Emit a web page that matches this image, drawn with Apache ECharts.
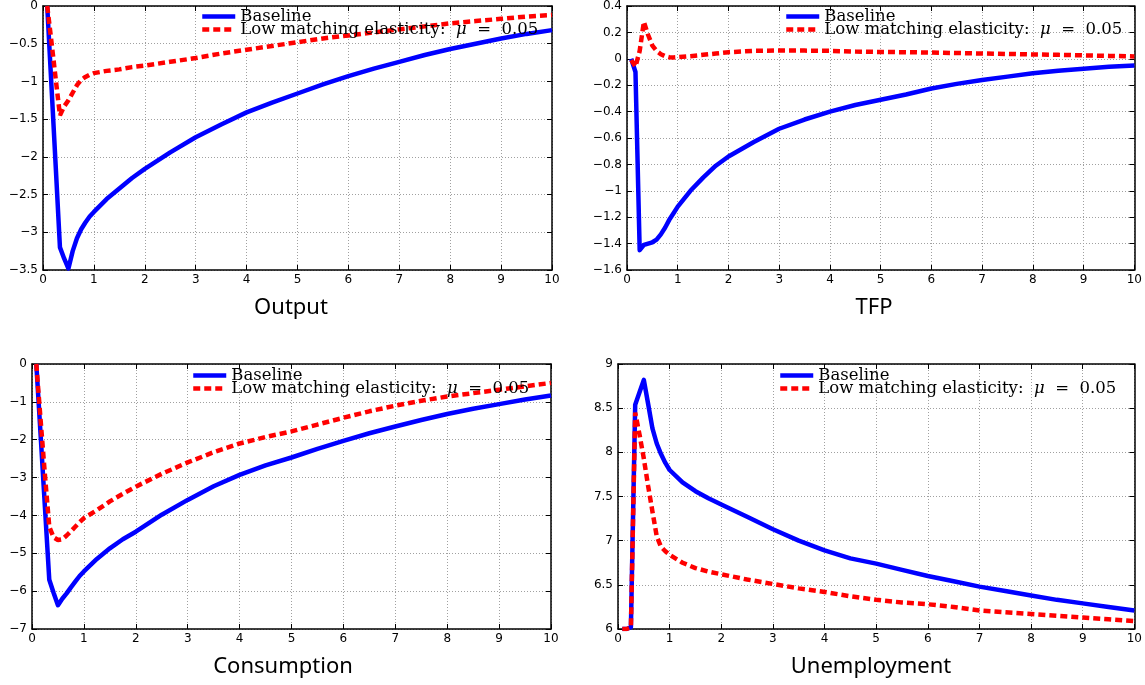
<!DOCTYPE html>
<html><head><meta charset="utf-8">
<script src="https://cdn.jsdelivr.net/npm/echarts@6/dist/echarts.min.js"></script>
<style>html,body{margin:0;padding:0;background:#fff}#c{width:1145px;height:685px}</style>
</head><body><div id="c"></div>
<script>
const years = [0.083,0.167,0.25,0.333,0.417,0.5,0.583,0.667,0.75,0.833,0.917,1,1.25,1.5,1.75,2,2.5,3,3.5,4,4.5,5,5.5,6,6.5,7,7.5,8,8.5,9,9.5,10];
const seriesNames = ['Baseline', 'Low matching elasticity: μ = 0.05'];
const panelTitles = ['Output', 'TFP', 'Consumption', 'Unemployment'];

const outputBase = [0,-1.07,-2.13,-3.2,-3.35,-3.48,-3.25,-3.08,-2.96,-2.87,-2.79,-2.73,-2.56,-2.42,-2.28,-2.16,-1.94,-1.74,-1.57,-1.41,-1.28,-1.16,-1.04,-0.93,-0.83,-0.74,-0.65,-0.57,-0.5,-0.43,-0.37,-0.32];
const outputLow = [0,-0.48,-0.97,-1.45,-1.33,-1.25,-1.15,-1.05,-0.98,-0.94,-0.91,-0.89,-0.86,-0.84,-0.81,-0.79,-0.74,-0.69,-0.63,-0.58,-0.53,-0.48,-0.43,-0.39,-0.35,-0.31,-0.27,-0.23,-0.2,-0.17,-0.14,-0.12];
const tfpBase = [0,-0.1,-1.45,-1.41,-1.4,-1.39,-1.37,-1.33,-1.28,-1.22,-1.17,-1.12,-1.0,-0.9,-0.81,-0.74,-0.63,-0.53,-0.46,-0.4,-0.35,-0.31,-0.27,-0.225,-0.19,-0.16,-0.135,-0.11,-0.09,-0.075,-0.06,-0.05];
const tfpLow = [-0.01,-0.06,0.06,0.28,0.18,0.1,0.06,0.035,0.02,0.012,0.01,0.012,0.02,0.03,0.04,0.05,0.06,0.063,0.062,0.06,0.055,0.052,0.05,0.047,0.044,0.04,0.037,0.033,0.03,0.026,0.022,0.018];
const consBase = [0,-1.9,-3.8,-5.7,-6.05,-6.37,-6.2,-6.06,-5.9,-5.75,-5.6,-5.48,-5.15,-4.87,-4.63,-4.43,-3.98,-3.59,-3.23,-2.93,-2.68,-2.47,-2.24,-2.03,-1.83,-1.65,-1.48,-1.32,-1.18,-1.06,-0.94,-0.83];
const consLow = [0,-1.5,-2.95,-4.3,-4.58,-4.65,-4.63,-4.53,-4.42,-4.3,-4.18,-4.07,-3.86,-3.63,-3.43,-3.24,-2.9,-2.6,-2.33,-2.1,-1.93,-1.78,-1.6,-1.42,-1.25,-1.1,-0.97,-0.86,-0.77,-0.68,-0.59,-0.5];
const unempBase = [6,6,6.02,8.54,8.68,8.82,8.55,8.27,8.1,7.98,7.88,7.8,7.66,7.56,7.48,7.41,7.27,7.13,7.0,6.89,6.8,6.74,6.67,6.6,6.54,6.48,6.43,6.38,6.33,6.29,6.25,6.21];
const unempLow = [6,6,6.02,8.45,8.2,7.93,7.62,7.33,7.05,6.93,6.88,6.84,6.75,6.69,6.65,6.62,6.56,6.51,6.46,6.42,6.37,6.33,6.3,6.28,6.25,6.21,6.19,6.17,6.15,6.13,6.11,6.09];

const yMins = [-3.5, -1.6, -7, 6];
const yMaxs = [0, 0.4, 0, 9];
const ySteps = [0.5, 0.2, 1, 0.5];
const baseData = [outputBase, tfpBase, consBase, unempBase];
const lowData = [outputLow, tfpLow, consLow, unempLow];

const layout = [
  {grid:{left:43, top:6, width:509, height:264}, legend:{left:200, top:8}, title:[291, 308]},
  {grid:{left:627, top:6, width:508, height:264}, legend:{left:784, top:8}, title:[874, 308]},
  {grid:{left:32, top:364, width:519, height:265}, legend:{left:191, top:367}, title:[283, 667]},
  {grid:{left:618, top:364, width:517, height:265}, legend:{left:778, top:367}, title:[871, 667]}
];

const fmt = v => String(Math.round(v * 1000) / 1000).replace('-', '\u2212');

const grids = [], xAxes = [], yAxes = [], series = [], legends = [], graphics = [];
const axisLine = {show:true, onZero:false, lineStyle:{color:'#000', width:1.5}};
const tickStyle = {show:true, inside:true, length:5, lineStyle:{color:'#000', width:1}};
const labelStyle = {color:'#000', fontFamily:'DejaVu Sans', fontSize:12};
const gridLine = {show:true, lineStyle:{color:'#a0a0a0', type:[1,2], width:1}};
const serif = 'DejaVu Serif';
const lf = 16.5;

layout.forEach((p, i) => {
  grids.push(Object.assign({show:false, containLabel:false}, p.grid));
  xAxes.push({type:'value', gridIndex:i, min:0, max:10, interval:1, position:'bottom',
    axisLine, axisTick:tickStyle, axisLabel:Object.assign({margin:4, formatter:fmt}, labelStyle),
    splitLine:gridLine});
  xAxes.push({type:'value', gridIndex:i, min:0, max:10, interval:1, position:'top',
    axisLine, axisTick:tickStyle, axisLabel:{show:false}, splitLine:{show:false}});
  yAxes.push({type:'value', gridIndex:i, min:yMins[i], max:yMaxs[i], interval:ySteps[i], position:'left',
    axisLine, axisTick:tickStyle, axisLabel:Object.assign({margin:5, formatter:fmt}, labelStyle),
    splitLine:gridLine});
  yAxes.push({type:'value', gridIndex:i, min:yMins[i], max:yMaxs[i], interval:ySteps[i], position:'right',
    axisLine, axisTick:tickStyle, axisLabel:{show:false}, splitLine:{show:false}});

  series.push({name:seriesNames[0], type:'line', xAxisIndex:2*i, yAxisIndex:2*i,
    data: years.map((x, k) => [x, baseData[i][k]]), showSymbol:false, symbol:'none',
    lineStyle:{color:'#0000ff', width:4.5, join:'round'}, itemStyle:{color:'#0000ff'}, animation:false, z:2});
  series.push({name:seriesNames[1], type:'line', xAxisIndex:2*i, yAxisIndex:2*i,
    data: years.map((x, k) => [x, lowData[i][k]]), showSymbol:false, symbol:'none',
    lineStyle:{color:'#ff0000', width:4.5, type:[7,4], cap:'butt'}, itemStyle:{color:'#ff0000'}, animation:false, z:3});

  legends.push({left:p.legend.left, top:p.legend.top, orient:'vertical', itemGap:-4, itemWidth:33, itemHeight:12,
    padding:0, selectedMode:false, data:seriesNames,
    itemStyle:{opacity:0}, lineStyle:{width:4.5},
    formatter: n => n === seriesNames[1] ? '{n|Low matching elasticity:  }{i|μ}{n|  =  0.05}' : '{n|' + n + '}',
    textStyle:{fontFamily:serif, fontSize:lf, color:'#000', lineHeight:12,
      rich:{n:{fontFamily:serif, fontSize:lf, color:'#000', lineHeight:12},
            i:{fontFamily:serif, fontStyle:'italic', fontSize:lf, color:'#000', lineHeight:12}}}});

  graphics.push({type:'text', x:p.title[0], y:p.title[1],
    style:{text:panelTitles[i], fontFamily:'Noto Sans', fontSize:22, fill:'#000', textAlign:'center', textVerticalAlign:'middle'}});
});

const chart = echarts.init(document.getElementById('c'), null, {renderer:'canvas'});
chart.setOption({animation:false, grid:grids, xAxis:xAxes, yAxis:yAxes, series, legend:legends, graphic:graphics});
</script></body></html>
